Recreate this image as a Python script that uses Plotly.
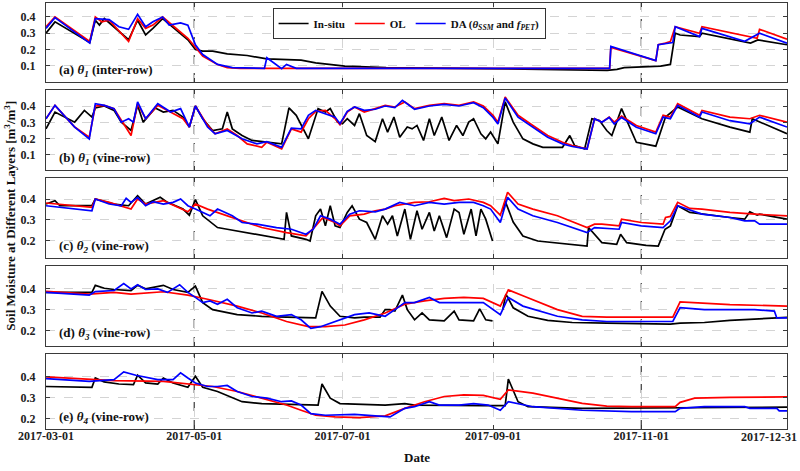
import plotly.graph_objects as go
import pandas as pd

# ---------------- axis / label data ----------------
START = "2017-03-01"
END = "2017-12-31"
TICK_DATES = ["2017-03-01", "2017-05-01", "2017-07-01", "2017-09-01", "2017-11-01", "2017-12-31"]
MARK_DATES = ["2017-05-01", "2017-11-01"]
SERIES_NAMES = ["In-situ", "OL", "DA (<i>θ</i><sub><i>SSM</i></sub> and <i>f</i><sub><i>PET</i></sub>)"]
PANEL_LABELS = [
    "(a) <i>θ</i><sub><i>1</i></sub> (inter-row)",
    "(b) <i>θ</i><sub><i>1</i></sub> (vine-row)",
    "(c) <i>θ</i><sub><i>2</i></sub> (vine-row)",
    "(d) <i>θ</i><sub><i>3</i></sub> (vine-row)",
    "(e) <i>θ</i><sub><i>4</i></sub> (vine-row)",
]
Y_TICKS = [[0.1, 0.2, 0.3, 0.4], [0.1, 0.2, 0.3, 0.4], [0.2, 0.3, 0.4], [0.2, 0.3, 0.4], [0.2, 0.3, 0.4]]
Y_RANGES = [[0.0, 0.486], [0.008, 0.498], [0.119, 0.5], [0.125, 0.51], [0.15, 0.51]]

# ---------------- series data (day since 2017-03-01, soil moisture) ----------------
# Panel (a) theta1 inter-row
A_INSITU_DAY = [0, 3.7, 18, 20.3, 22, 24, 34, 37.7, 41, 44, 48, 58.4, 61.5, 64.5, 68.6, 74.6, 82.8, 90.9, 105, 111, 123, 140, 180, 231, 235, 238, 253, 257, 259, 261, 269, 270, 290, 293, 305]
A_INSITU_VAL = [0.30, 0.37, 0.243, 0.38, 0.35, 0.39, 0.26, 0.38, 0.29, 0.33, 0.39, 0.26, 0.20, 0.19, 0.19, 0.173, 0.163, 0.142, 0.134, 0.118, 0.098, 0.088, 0.082, 0.072, 0.078, 0.088, 0.098, 0.108, 0.30, 0.289, 0.279, 0.30, 0.239, 0.259, 0.229]
A_OL_DAY = [0, 3.7, 18, 20.3, 23, 26, 34, 37.7, 41, 44, 48, 58.4, 64.5, 70.6, 74.6, 80, 232, 232.5, 251, 252, 255, 257, 259, 269, 270, 292.7, 293.7, 305]
A_OL_VAL = [0.34, 0.40, 0.249, 0.40, 0.37, 0.38, 0.249, 0.39, 0.33, 0.35, 0.40, 0.269, 0.159, 0.108, 0.088, 0.084, 0.084, 0.213, 0.132, 0.229, 0.239, 0.249, 0.34, 0.30, 0.34, 0.269, 0.324, 0.263]
A_DA_DAY = [0, 3.7, 18, 20.3, 26, 30, 34, 37.7, 41, 44, 48, 50.7, 55.4, 58.4, 61.5, 64.5, 70.6, 76.7, 89.9, 90.9, 97, 99, 103, 232, 232.5, 251, 252, 258, 259, 269, 270, 287.6, 293.7, 305]
A_DA_VAL = [0.33, 0.396, 0.239, 0.39, 0.384, 0.34, 0.324, 0.416, 0.34, 0.37, 0.40, 0.35, 0.364, 0.35, 0.229, 0.169, 0.108, 0.088, 0.084, 0.149, 0.082, 0.108, 0.084, 0.084, 0.219, 0.132, 0.229, 0.243, 0.34, 0.279, 0.33, 0.25, 0.30, 0.239]

# Panel (b) theta1 vine-row
B_INSITU_DAY = [0, 3.7, 11.8, 15.8, 18.9, 20.3, 24, 28, 31, 35, 37.7, 40, 45, 48.3, 52.3, 56.4, 59, 61.5, 64.5, 68.6, 72.6, 74.6, 76.7, 80.7, 84.8, 97, 100, 103, 108, 112, 115, 117, 120, 122, 124, 127, 129, 132, 135.5, 138.5, 140.6, 143.2, 145.6, 148.7, 150.7, 152.7, 155.4, 157.8, 159.8, 162.9, 165.9, 169, 171.6, 174, 176, 179, 181, 183, 186, 189, 192.3, 196.3, 200.4, 204.5, 212.6, 215.6, 217.6, 221.7, 224.7, 227.8, 230.8, 232.9, 236.9, 243, 251, 255, 260, 270, 281.5, 289.7, 290.7, 305]
B_INSITU_VAL = [0.26, 0.363, 0.301, 0.373, 0.332, 0.388, 0.40, 0.373, 0.301, 0.25, 0.404, 0.301, 0.388, 0.363, 0.373, 0.332, 0.271, 0.40, 0.322, 0.25, 0.26, 0.363, 0.26, 0.219, 0.189, 0.168, 0.388, 0.343, 0.199, 0.384, 0.363, 0.384, 0.301, 0.291, 0.322, 0.281, 0.353, 0.219, 0.182, 0.322, 0.24, 0.332, 0.209, 0.271, 0.26, 0.281, 0.189, 0.322, 0.219, 0.332, 0.189, 0.281, 0.219, 0.301, 0.322, 0.23, 0.199, 0.24, 0.168, 0.425, 0.301, 0.199, 0.168, 0.147, 0.147, 0.219, 0.158, 0.137, 0.322, 0.311, 0.25, 0.219, 0.384, 0.178, 0.154, 0.332, 0.394, 0.322, 0.271, 0.24, 0.322, 0.23]
B_OL_DAY = [0, 3.7, 11.8, 17.8, 20.3, 24, 28, 35, 37.7, 41, 46, 51.3, 56.4, 59, 61.5, 66.5, 69.6, 74.6, 78.7, 82.8, 88.8, 90.9, 97, 101, 105, 108, 111, 115, 119, 121, 124, 127, 131, 135.5, 139.6, 143.6, 147.7, 151.7, 157.8, 163.9, 170, 176, 180, 184, 186, 189, 194.3, 200.4, 206.5, 212.6, 216.6, 222.7, 225.8, 228.8, 231.8, 233.9, 236.9, 243, 251, 254, 257, 260, 269, 270, 281.5, 289.7, 293.7, 305]
B_OL_VAL = [0.322, 0.404, 0.271, 0.209, 0.40, 0.404, 0.384, 0.219, 0.414, 0.322, 0.404, 0.363, 0.322, 0.271, 0.40, 0.281, 0.23, 0.26, 0.219, 0.168, 0.147, 0.178, 0.137, 0.26, 0.24, 0.322, 0.367, 0.373, 0.322, 0.285, 0.363, 0.394, 0.363, 0.384, 0.404, 0.394, 0.425, 0.384, 0.404, 0.414, 0.404, 0.425, 0.40, 0.343, 0.301, 0.455, 0.343, 0.281, 0.219, 0.178, 0.158, 0.137, 0.322, 0.301, 0.332, 0.301, 0.338, 0.281, 0.24, 0.343, 0.332, 0.414, 0.343, 0.373, 0.332, 0.322, 0.343, 0.301]
B_DA_DAY = [0, 3.7, 11.8, 17.8, 20.3, 24, 28, 31, 34, 36, 37.7, 41, 46, 51.3, 55.4, 59, 61.5, 66.5, 69.6, 74.6, 80.7, 86.8, 90.9, 97, 101, 105, 108, 111, 119, 121, 124, 127, 131, 135.5, 139.6, 143.6, 146.7, 151.7, 157.8, 163.9, 170, 176, 180, 184, 186, 189, 194.3, 200.4, 206.5, 212.6, 216.6, 222.7, 225.8, 228.8, 231.8, 233.9, 236.9, 243, 251, 254, 257, 260, 269, 270, 281.5, 289.7, 293.7, 305]
B_DA_VAL = [0.322, 0.404, 0.271, 0.199, 0.414, 0.404, 0.384, 0.301, 0.322, 0.301, 0.425, 0.322, 0.414, 0.363, 0.384, 0.271, 0.40, 0.271, 0.23, 0.25, 0.199, 0.168, 0.182, 0.147, 0.264, 0.26, 0.343, 0.373, 0.332, 0.291, 0.367, 0.394, 0.373, 0.38, 0.40, 0.39, 0.435, 0.38, 0.40, 0.41, 0.40, 0.42, 0.39, 0.33, 0.29, 0.449, 0.332, 0.271, 0.209, 0.168, 0.152, 0.137, 0.322, 0.30, 0.33, 0.29, 0.33, 0.27, 0.23, 0.332, 0.322, 0.404, 0.332, 0.363, 0.31, 0.291, 0.332, 0.271]

# Panel (c) theta2 vine-row
C_INSITU_DAY = [0, 3.7, 5.7, 18.9, 20.3, 28, 34, 37.7, 41, 44, 47, 50, 56.4, 59, 61.5, 64.5, 70.6, 74.6, 82.8, 90.9, 98, 99, 101, 107, 108.7, 111, 113, 115, 117, 119, 121, 124, 126, 129, 132, 135.5, 138.5, 140.6, 142.6, 144.6, 147.7, 150, 152.7, 154.8, 157.8, 159.8, 161.9, 164.9, 168, 170, 172, 175, 177, 179, 181, 183.8, 186, 188, 189, 192.3, 196.3, 202.4, 212.6, 222.7, 223.3, 228.8, 234.9, 236.5, 239, 247, 252, 254.8, 257, 260, 265, 270, 281.5, 287.6, 289.7, 292.7, 293.7, 305]
C_INSITU_VAL = [0.376, 0.392, 0.368, 0.368, 0.40, 0.376, 0.368, 0.416, 0.376, 0.392, 0.408, 0.384, 0.352, 0.323, 0.397, 0.32, 0.264, 0.256, 0.24, 0.224, 0.208, 0.336, 0.224, 0.208, 0.20, 0.32, 0.352, 0.272, 0.368, 0.272, 0.264, 0.336, 0.368, 0.304, 0.288, 0.208, 0.32, 0.28, 0.32, 0.224, 0.352, 0.208, 0.344, 0.256, 0.336, 0.248, 0.32, 0.216, 0.352, 0.336, 0.232, 0.352, 0.224, 0.352, 0.304, 0.20, None, 0.34, 0.39, 0.29, 0.224, 0.20, 0.189, 0.176, 0.264, 0.192, 0.184, 0.232, 0.192, 0.179, 0.176, 0.256, 0.272, 0.368, 0.336, 0.328, 0.312, 0.304, 0.339, 0.323, 0.328, 0.304]
C_OL_DAY = [0, 18.9, 20.3, 26, 35, 37.7, 41, 48.3, 58.4, 61.5, 66.5, 78.7, 88.8, 99, 107, 111, 114, 119, 121, 125, 131, 135.5, 139.6, 143.6, 147.7, 151.7, 157.8, 163.9, 168, 174, 180, 183, 187, 190, 194.3, 200.4, 210.5, 222.7, 225.8, 228.8, 235.9, 236.9, 245, 254, 255, 257, 260, 265, 270, 281.5, 291.7, 305]
C_OL_VAL = [0.381, 0.36, 0.40, 0.384, 0.352, 0.40, 0.376, 0.392, 0.339, 0.376, 0.352, 0.304, 0.264, 0.24, 0.224, 0.272, 0.312, 0.288, 0.272, 0.32, 0.328, 0.344, 0.352, 0.368, 0.376, 0.384, 0.387, 0.403, 0.392, 0.40, 0.384, 0.368, 0.323, 0.432, 0.376, 0.352, 0.32, 0.264, 0.28, 0.28, 0.272, 0.304, 0.288, 0.28, 0.312, 0.317, 0.384, 0.355, 0.352, 0.336, 0.328, 0.32]
C_DA_DAY = [0, 18.9, 20.3, 26, 31, 33, 35, 37.7, 41, 44, 48.3, 52.3, 55.4, 58.4, 61.5, 64.5, 67.5, 70.6, 76.7, 80.7, 86.8, 94.9, 101, 107, 110, 113, 117, 121, 125, 129, 135.5, 139.6, 145.6, 151.7, 157.8, 163.9, 170, 176, 180, 183, 187, 190, 194.3, 200.4, 210.5, 222.7, 225.8, 235.9, 236.9, 245, 254, 257, 260, 270, 281.5, 287.6, 291.7, 293.7, 305]
C_DA_VAL = [0.368, 0.344, 0.40, 0.376, 0.368, 0.403, 0.384, 0.408, 0.368, 0.387, 0.376, 0.384, 0.40, 0.368, 0.352, 0.336, 0.32, 0.352, 0.32, 0.288, 0.28, 0.264, 0.256, 0.232, 0.256, 0.32, 0.304, 0.28, 0.328, 0.344, 0.339, 0.352, 0.384, 0.368, 0.384, 0.376, 0.384, 0.384, 0.368, 0.352, 0.288, 0.408, 0.352, 0.32, 0.288, 0.24, 0.264, 0.256, 0.288, 0.272, 0.264, 0.296, 0.368, 0.328, 0.312, 0.296, 0.296, 0.28, 0.28]

# Panel (d) theta3 vine-row
D_INSITU_DAY = [0, 18.9, 20.3, 24, 28, 35, 37.7, 41, 48.3, 52.3, 58.4, 61.5, 64.5, 68.6, 78.7, 88.8, 99, 111, 113.6, 117, 121, 127, 131, 137.5, 139.6, 141.6, 143.6, 146.7, 148.7, 151.7, 154.8, 157.8, 163.9, 168, 170, 176, 178.5, 181, 183.8, 186, 188, 189.3, 192.3, 198.4, 206.5, 216.6, 230.8, 245, 257, 261, 271, 281.5, 291.7, 305]
D_INSITU_VAL = [0.383, 0.383, 0.417, 0.403, 0.397, 0.392, 0.417, 0.40, 0.417, 0.397, 0.383, 0.413, 0.334, 0.30, 0.276, 0.268, 0.264, 0.26, 0.388, 0.317, 0.268, 0.26, 0.264, 0.264, 0.30, 0.30, 0.293, 0.37, 0.30, 0.251, 0.284, 0.251, 0.246, 0.293, 0.251, 0.246, 0.304, 0.251, 0.246, None, 0.30, 0.375, 0.309, 0.268, 0.248, 0.238, 0.235, 0.231, 0.23, 0.235, 0.238, 0.248, 0.255, 0.263]
D_OL_DAY = [0, 17.8, 28, 35, 48.3, 58.4, 66.5, 78.7, 88.8, 99, 108, 115, 123, 131, 139.6, 147.7, 155.8, 163.9, 172, 180, 187, 190.3, 196.3, 210.5, 220.7, 230.8, 241, 258, 261, 271, 281.5, 305]
D_OL_VAL = [0.388, 0.375, 0.383, 0.375, 0.386, 0.37, 0.35, 0.317, 0.284, 0.243, 0.218, 0.218, 0.226, 0.251, 0.284, 0.326, 0.342, 0.354, 0.359, 0.354, 0.317, 0.395, 0.367, 0.30, 0.268, 0.264, 0.264, 0.264, 0.337, 0.331, 0.324, 0.317]
D_DA_DAY = [0, 17.8, 20.3, 28, 32, 35, 37.7, 41, 46, 50, 55, 58.4, 61.5, 64.5, 67.5, 70.6, 74.6, 78.7, 84.8, 88.8, 94.9, 101, 105, 109, 113, 119, 127, 133, 139.6, 143.6, 147.7, 151.7, 157.8, 161.9, 170, 176, 180, 187, 190.3, 196.3, 210.5, 220.7, 230.8, 258, 261, 271, 281.5, 291.7, 299.8, 300.8, 305]
D_DA_VAL = [0.383, 0.37, 0.387, 0.392, 0.425, 0.40, 0.42, 0.397, 0.40, 0.383, 0.42, 0.383, 0.359, 0.334, 0.342, 0.326, 0.35, 0.309, 0.284, 0.293, 0.268, 0.276, 0.251, 0.21, 0.218, 0.243, 0.276, 0.284, 0.268, 0.30, 0.334, 0.334, 0.359, 0.334, 0.334, 0.334, 0.334, 0.276, 0.359, 0.317, 0.268, 0.251, 0.243, 0.243, 0.31, 0.30, 0.30, 0.30, 0.293, 0.26, 0.26]

# Panel (e) theta4 vine-row
E_INSITU_DAY = [0, 18.9, 20.3, 23.9, 30, 36, 37.7, 41, 46, 48.3, 52.3, 58.4, 61.5, 64.5, 70.6, 80.7, 88.8, 99, 112, 113.6, 117, 121, 139.6, 147.7, 151.7, 180, 189, 190.3, 194.3, 198.4, 220.7, 305]
E_INSITU_VAL = [0.354, 0.35, 0.395, 0.376, 0.366, 0.363, 0.408, 0.371, 0.366, 0.395, 0.371, 0.35, 0.403, 0.35, 0.33, 0.281, 0.272, 0.268, 0.265, 0.366, 0.298, 0.272, 0.265, 0.272, 0.265, 0.262, 0.262, 0.39, 0.281, 0.257, 0.249, 0.255]
E_OL_DAY = [0, 17.8, 28, 48.3, 58.4, 68.6, 78.7, 88.8, 99, 105, 111, 119, 129, 139.6, 147.7, 155.8, 163.9, 172, 180, 187, 190.3, 200.4, 210.5, 220.7, 230.8, 241, 259, 261, 267, 281.5, 305]
E_OL_VAL = [0.40, 0.387, 0.382, 0.379, 0.366, 0.354, 0.33, 0.298, 0.265, 0.24, 0.216, 0.208, 0.205, 0.213, 0.249, 0.281, 0.306, 0.314, 0.311, 0.293, 0.338, 0.322, 0.298, 0.273, 0.26, 0.257, 0.257, 0.278, 0.298, 0.302, 0.304]
E_DA_DAY = [0, 17.8, 28, 32, 37, 42, 46, 52.3, 55.4, 58.4, 61.5, 66.5, 70.6, 74.6, 78.7, 84.8, 90.9, 97, 101, 105, 109, 115, 127, 135.5, 141.6, 147.7, 151.7, 157.8, 161.9, 170, 176, 182, 187, 190.3, 200.4, 220.7, 241, 259, 261, 271, 287.6, 289.7, 300.8, 301.8, 305]
E_DA_VAL = [0.392, 0.379, 0.387, 0.424, 0.408, 0.395, 0.387, 0.387, 0.42, 0.395, 0.371, 0.354, 0.354, 0.359, 0.33, 0.306, 0.298, 0.281, 0.285, 0.265, 0.224, 0.216, 0.22, 0.213, 0.208, 0.249, 0.257, 0.281, 0.265, 0.265, 0.272, 0.265, 0.24, 0.281, 0.257, 0.24, 0.233, 0.233, 0.249, 0.257, 0.257, 0.249, 0.249, 0.237, 0.237]

PANELS = [
    [(A_INSITU_DAY, A_INSITU_VAL), (A_OL_DAY, A_OL_VAL), (A_DA_DAY, A_DA_VAL)],
    [(B_INSITU_DAY, B_INSITU_VAL), (B_OL_DAY, B_OL_VAL), (B_DA_DAY, B_DA_VAL)],
    [(C_INSITU_DAY, C_INSITU_VAL), (C_OL_DAY, C_OL_VAL), (C_DA_DAY, C_DA_VAL)],
    [(D_INSITU_DAY, D_INSITU_VAL), (D_OL_DAY, D_OL_VAL), (D_DA_DAY, D_DA_VAL)],
    [(E_INSITU_DAY, E_INSITU_VAL), (E_OL_DAY, E_OL_VAL), (E_DA_DAY, E_DA_VAL)],
]
COLORS = ["#000000", "#ff0000", "#0000ff"]

# ---------------- figure ----------------
BASE = pd.Timestamp(START)


def to_dates(days):
    return [BASE + pd.Timedelta(days=d) for d in days]


W, H = 800, 471
ML, MR, MT, MB = 46, 13, 3, 42
PLOT_H = H - MT - MB
PLOT_W = W - ML - MR
PANEL_PX = [(3, 82), (90, 170), (178, 258), (266, 346), (354, 429)]
FONT = "Liberation Serif"
FRAME = "#3a3a3a"
TICKFONT = dict(family=FONT, size=12, color="#222", weight="bold")

fig = go.Figure()
layout = {}
for i, series in enumerate(PANELS):
    n = "" if i == 0 else str(i + 1)
    for j, (days, vals) in enumerate(series):
        fig.add_trace(go.Scatter(
            x=to_dates(days), y=vals, mode="lines",
            line=dict(color=COLORS[j], width=1.7),
            name=SERIES_NAMES[j], showlegend=(i == 0),
            connectgaps=False,
            xaxis="x" + n, yaxis="y" + n,
        ))
    top, bot = PANEL_PX[i]
    dom = [(H - MB - bot) / PLOT_H, (H - MB - top) / PLOT_H]
    last = i == len(PANELS) - 1
    # the final date label is placed separately so it stays inside the page
    ticktext = TICK_DATES[:-1] + [""]
    layout["xaxis" + n] = dict(
        type="date", range=[START, END], domain=[0, 1], anchor="y" + n,
        tickvals=TICK_DATES, ticktext=ticktext, showticklabels=last,
        tickfont=TICKFONT,
        showgrid=True, gridcolor="#d4d4d4", griddash="dash", gridwidth=1,
        showline=True, linecolor=FRAME, linewidth=1, mirror="ticks",
        ticks="inside", ticklen=4, tickcolor=FRAME, zeroline=False,
        ticklabelstandoff=-4,
        matches=None if i == 0 else "x",
    )
    layout["yaxis" + n] = dict(
        domain=dom, anchor="x" + n, range=Y_RANGES[i], tickvals=Y_TICKS[i],
        ticktext=[f"{v:.1f}" for v in Y_TICKS[i]],
        tickfont=TICKFONT,
        showgrid=True, gridcolor="#d4d4d4", griddash="dash", gridwidth=1,
        showline=True, linecolor=FRAME, linewidth=1, mirror="ticks",
        ticks="inside", ticklen=4, tickcolor=FRAME, zeroline=False,
        ticklabelstandoff=7,
    )
    for md in MARK_DATES:
        fig.add_shape(type="line", x0=md, x1=md, y0=0, y1=1, xref="x" + n,
                      yref="y" + n + " domain", layer="below",
                      line=dict(color="#111", width=1, dash="dash"))
    fig.add_annotation(
        text="<b>" + PANEL_LABELS[i] + "</b>", xref="x" + n + " domain", yref="y" + n + " domain",
        x=0.015, y=0.15, xanchor="left", yanchor="middle", showarrow=False,
        font=dict(family=FONT, size=13, color="#111"),
    )

fig.update_layout(**layout)
# last x tick label, right-aligned at the page edge
fig.add_annotation(
    text=TICK_DATES[-1], xref="paper", yref="paper", x=1 + (MR - 1) / PLOT_W,
    y=-8 / PLOT_H, xanchor="right", yanchor="middle", showarrow=False,
    font=TICKFONT,
)
fig.add_annotation(
    text="<b>Soil Moisture at Different Layers [m<sup>3</sup>/m<sup>3</sup>]</b>",
    xref="paper", yref="paper", x=-0.049, y=0.5, textangle=-90, showarrow=False,
    xanchor="center", yanchor="middle", font=dict(family=FONT, size=13, color="#111"),
)
fig.add_annotation(
    text="<b>Date</b>", xref="paper", yref="paper", x=0.5, y=-0.068, showarrow=False,
    xanchor="center", yanchor="middle", font=dict(family=FONT, size=13, color="#111"),
)
fig.update_layout(
    width=W, height=H, margin=dict(l=ML, r=MR, t=MT, b=MB),
    paper_bgcolor="white", plot_bgcolor="white",
    legend=dict(
        orientation="h", x=0.49, xanchor="center", y=1 - 5 / PLOT_H, yanchor="top",
        bgcolor="white", bordercolor="#333", borderwidth=1,
        font=dict(family=FONT, size=11, color="#111", weight="bold"),
        itemwidth=30, tracegroupgap=0,
    ),
)
fig.write_html(
    "out.html",
    config={"displayModeBar": False},
    post_script="document.body.style.margin='0';document.body.style.overflow='hidden';",
)
